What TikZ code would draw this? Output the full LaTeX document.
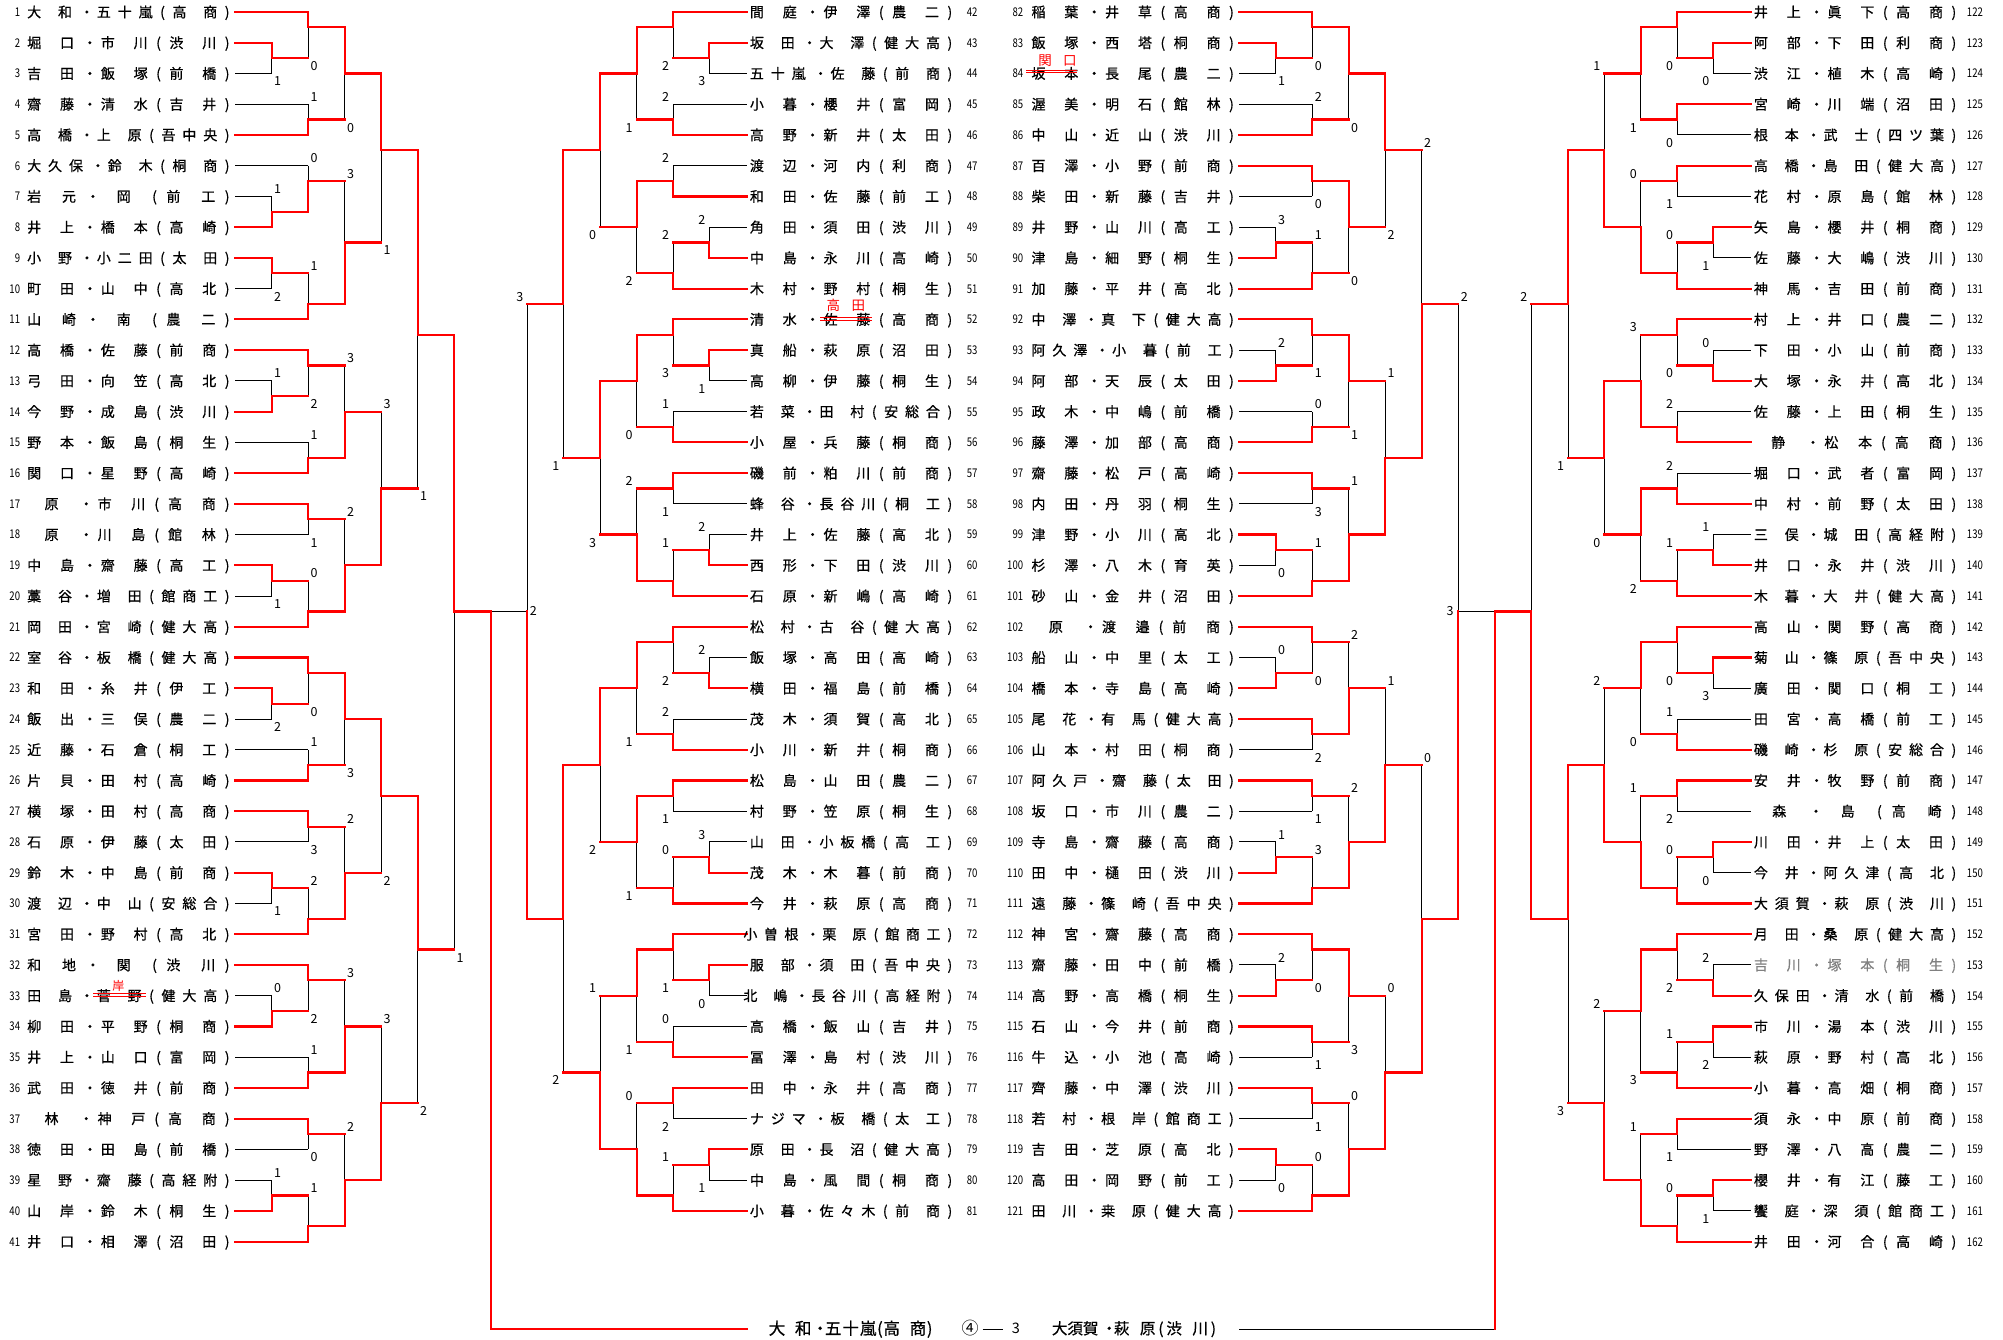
\documentclass[tikz,border=0pt]{standalone}
\usepackage{fontspec}
\setmainfont{Noto Sans CJK JP}
\newfontfamily\jpname{Noto Sans CJK JP}[FakeBold=0.6]
\usepackage{graphicx}
\pgfdeclarelayer{bg}
\pgfsetlayers{bg,main}

\newdimen\dkw \dkw=13pt
\newdimen\ddw \ddw=10pt
\newdimen\dpw \dpw=5pt
\newdimen\dsw \dsw=2pt
\newdimen\dlw \dlw=8pt
\newdimen\dgm \dgm=7.5pt
\newdimen\dds \dds=2.5pt
\def\dcbox#1#2{\hbox to#1{\kern\dimexpr#1/2\relax\hbox to0pt{\hss#2\hss}\hss}}
\def\ddotbox{\hbox to\ddw{\kern\dimexpr\ddw/2+\dds\relax\hbox to0pt{\hss・\hss}\hss}}
\def\distone#1{%
  \ifx#1・\ddotbox
  \else\ifx#1_\hbox to\dsw{}%
  \else\ifx#1=\hbox to\dlw{}%
  \else\ifx#1(\dcbox\dpw{(}%
  \else\ifx#1)\dcbox\dpw{)}%
  \else\dcbox\dkw{#1}%
  \fi\fi\fi\fi\fi}
\def\distsep{\hskip\dgm plus 1fil\relax}
\def\distloop#1{\ifx#1\relax\else\distone{#1}\distsep\expandafter\distloop\fi}
\newcommand\dist[2]{\hbox to#1{\hskip0pt minus 1fil\relax\distloop#2\relax\unskip}}
\newcommand\distN[1]{\hbox{\distloop#1\relax\unskip}}

\def\xLa{271.7}\def\xLb{308}\def\xLc{344.7}\def\xLd{381}\def\xLe{417.7}\def\xLf{454}\def\xLg{490.7}
\def\xRa{709.3}\def\xRb{673}\def\xRc{636.7}\def\xRd{600}\def\xRe{563.3}\def\xRf{527.3}
\def\xSa{1275.7}\def\xSb{1312.3}\def\xSc{1348.7}\def\xSd{1385}\def\xSe{1421.7}\def\xSf{1458.3}
\def\xQa{1713.3}\def\xQb{1677}\def\xQc{1640.7}\def\xQd{1604.3}\def\xQe{1568}\def\xQf{1531.3}

\newcounter{lab}
\newcommand\ML[7]{%
  \stepcounter{lab}%
  \if#6t%
    \begin{pgfonlayer}{bg}\draw[lose] (#1,#4) -- (#1,#5);\end{pgfonlayer}%
    \draw[win] (#1,#3) -- (#1,#4) -- (#2,#4);%
    \node[sc] (lab\arabic{lab}) at (#1+6,#5+0.255) {#7};%
  \else
    \begin{pgfonlayer}{bg}\draw[lose] (#1,#3) -- (#1,#4);\end{pgfonlayer}%
    \draw[win] (#1,#5) -- (#1,#4) -- (#2,#4);%
    \node[sc] (lab\arabic{lab}) at (#1+6,#3-0.245) {#7};%
  \fi}
\newcommand\MR[7]{%
  \stepcounter{lab}%
  \if#6t%
    \begin{pgfonlayer}{bg}\draw[lose] (#1,#4) -- (#1,#5);\end{pgfonlayer}%
    \draw[win] (#1,#3) -- (#1,#4) -- (#2,#4);%
    \node[sc] (lab\arabic{lab}) at (#1-7.5,#5+0.255) {#7};%
  \else
    \begin{pgfonlayer}{bg}\draw[lose] (#1,#3) -- (#1,#4);\end{pgfonlayer}%
    \draw[win] (#1,#5) -- (#1,#4) -- (#2,#4);%
    \node[sc] (lab\arabic{lab}) at (#1-7.5,#3-0.245) {#7};%
  \fi}

\newcommand\entA[3][black]{%
  \node[num,anchor=east] (n#2) at (20.3,#2-1) {\scalebox{0.8}[1]{#2}};
  \node[nm,text=#1] (e#2) at (27.5,#2-1) {\dist{202pt}{#3}};}
\newcommand\entB[3][black]{%
  \node[num,anchor=west] (n#2) at (966.7,#2-42) {\scalebox{0.8}[1]{#2}};
  \node[nm,text=#1] (e#2) at (750.2,#2-42) {\dist{202pt}{#3}};}
\newcommand\entC[3][black]{%
  \node[num,anchor=east] (n#2) at (1023.4,#2-82) {\scalebox{0.8}[1]{#2}};
  \node[nm,text=#1] (e#2) at (1031.8,#2-82) {\dist{202pt}{#3}};}
\newcommand\entD[3][black]{%
  \node[num,anchor=west] (n#2) at (1966.7,#2-122) {\scalebox{0.8}[1]{#2}};
  \node[nm,text=#1] (e#2) at (1754.2,#2-122) {\dist{202pt}{#3}};}

\begin{document}
\begin{tikzpicture}[x=1pt,y=-30.74pt,
  win/.style={draw=red,line width=2.2pt,line cap=rect},
  lose/.style={draw=black,line width=1pt},
  sc/.style={inner sep=0pt,font=\fontsize{12.5pt}{12.5pt}\selectfont,text height=9.2pt,text depth=0pt},
  num/.style={inner sep=0pt,font=\fontsize{12pt}{12pt}\selectfont,text height=8.8pt,text depth=0pt},
  nm/.style={inner sep=0pt,anchor=west,font=\jpname\fontsize{14pt}{14pt}\selectfont,text height=12.3pt,text depth=1.7pt},
  fix/.style={inner sep=0pt,text=red,font=\fontsize{13.5pt}{13.5pt}\selectfont,text height=11.9pt,text depth=1.6pt},
]
\useasboundingbox (0,-0.39037) rectangle (2003,43.20107);
\begin{pgfonlayer}{bg}
\fill[white] (0,-0.39037) rectangle (2003,43.20107);
\end{pgfonlayer}

% ---------- entry lines ----------
\foreach \r in {0,4,10,11,15,16,20,21,25,26,30,31,35,36,40} \draw[win] (235,\r) -- (\xLb,\r);
\foreach \r in {1,7,8,13,18,22,28,33,39} \draw[win] (235,\r) -- (\xLa,\r);
\foreach \r in {0,4,6,9,10,14,15,19,20,24,25,29,30,34,35,39} \draw[win] (746.7,\r) -- (\xRb,\r);
\foreach \r in {1,8,11,18,22,28,31,37} \draw[win] (746.7,\r) -- (\xRa,\r);
\foreach \r in {0,4,5,9,10,14,15,19,20,23,25,29,30,33,35,39} \draw[win] (1239,\r) -- (\xSb,\r);
\foreach \r in {1,8,12,17,22,28,32,37} \draw[win] (1239,\r) -- (\xSa,\r);
\foreach \r in {0,3,5,9,10,14,16,19,20,24,25,29,30,35,36,40} \draw[win] (1750.7,\r) -- (\xQb,\r);
\foreach \r in {1,7,12,18,21,27,32,33,38} \draw[win] (1750.7,\r) -- (\xQa,\r);
\begin{pgfonlayer}{bg}
\foreach \r in {2,6,9,12,19,23,29,32,38} \draw[lose] (235,\r) -- (\xLa,\r);
\foreach \r in {3,5,14,17,24,27,34,37} \draw[lose] (235,\r) -- (\xLb,\r);
\foreach \r in {2,7,12,17,21,27,32,38} \draw[lose] (746.7,\r) -- (\xRa,\r);
\foreach \r in {3,5,13,16,23,26,33,36} \draw[lose] (746.7,\r) -- (\xRb,\r);
\foreach \r in {2,7,11,18,21,27,31,38} \draw[lose] (1239,\r) -- (\xSa,\r);
\foreach \r in {3,6,13,16,24,26,34,36} \draw[lose] (1239,\r) -- (\xSb,\r);
\foreach \r in {2,8,11,17,22,28,31,34,39} \draw[lose] (1750.7,\r) -- (\xQa,\r);
\foreach \r in {4,6,13,15,23,26,37} \draw[lose] (1750.7,\r) -- (\xQb,\r);
\end{pgfonlayer}

% ---------- left column matches ----------
\ML{\xLa}{\xLb}{1}{1.5}{2}{t}{1}
\ML{\xLb}{\xLc}{0}{0.5}{1.5}{t}{0}
\ML{\xLb}{\xLc}{3}{3.5}{4}{b}{1}
\ML{\xLc}{\xLd}{0.5}{2}{3.5}{t}{0}
\ML{\xLa}{\xLb}{6}{6.5}{7}{b}{1}
\ML{\xLb}{\xLc}{5}{5.5}{6.5}{b}{0}
\ML{\xLa}{\xLb}{8}{8.5}{9}{t}{2}
\ML{\xLb}{\xLc}{8.5}{9.5}{10}{b}{1}
\ML{\xLc}{\xLd}{5.5}{7.5}{9.5}{b}{3}
\ML{\xLd}{\xLe}{2}{4.5}{7.5}{t}{1}
\ML{\xLb}{\xLc}{11}{11.5}{12.5}{t}{2}
\ML{\xLa}{\xLb}{12}{12.5}{13}{b}{1}
\ML{\xLb}{\xLc}{14}{14.5}{15}{b}{1}
\ML{\xLc}{\xLd}{11.5}{13}{14.5}{b}{3}
\ML{\xLb}{\xLc}{16}{16.5}{17}{t}{1}
\ML{\xLa}{\xLb}{18}{18.5}{19}{t}{1}
\ML{\xLb}{\xLc}{18.5}{19.5}{20}{b}{0}
\ML{\xLc}{\xLd}{16.5}{18}{19.5}{b}{2}
\ML{\xLd}{\xLe}{13}{15.5}{18}{b}{3}
\ML{\xLe}{\xLf}{4.5}{10.5}{15.5}{t}{1}
\ML{\xLa}{\xLb}{22}{22.5}{23}{t}{2}
\ML{\xLb}{\xLc}{21}{21.5}{22.5}{t}{0}
\ML{\xLb}{\xLc}{24}{24.5}{25}{b}{1}
\ML{\xLc}{\xLd}{21.5}{23}{24.5}{t}{3}
\ML{\xLb}{\xLc}{26}{26.5}{27}{t}{3}
\ML{\xLa}{\xLb}{28}{28.5}{29}{t}{1}
\ML{\xLb}{\xLc}{28.5}{29.5}{30}{b}{2}
\ML{\xLc}{\xLd}{26.5}{28}{29.5}{b}{2}
\ML{\xLd}{\xLe}{23}{25.5}{28}{t}{2}
\ML{\xLa}{\xLb}{32}{32.5}{33}{b}{0}
\ML{\xLb}{\xLc}{31}{31.5}{32.5}{t}{2}
\ML{\xLb}{\xLc}{34}{34.5}{35}{b}{1}
\ML{\xLc}{\xLd}{31.5}{33}{34.5}{b}{3}
\ML{\xLb}{\xLc}{36}{36.5}{37}{t}{0}
\ML{\xLa}{\xLb}{38}{38.5}{39}{b}{1}
\ML{\xLb}{\xLc}{38.5}{39.5}{40}{b}{1}
\ML{\xLc}{\xLd}{36.5}{38}{39.5}{b}{2}
\ML{\xLd}{\xLe}{33}{35.5}{38}{b}{3}
\ML{\xLe}{\xLf}{25.5}{30.5}{35.5}{t}{2}
\ML{\xLf}{\xLg}{10.5}{19.5}{30.5}{t}{1}

% ---------- centre-left matches ----------
\MR{\xRb}{\xRc}{0}{0.5}{1.5}{t}{2}
\MR{\xRa}{\xRb}{1}{1.5}{2}{t}{3}
\MR{\xRb}{\xRc}{3}{3.5}{4}{b}{2}
\MR{\xRc}{\xRd}{0.5}{2}{3.5}{t}{1}
\MR{\xRb}{\xRc}{5}{5.5}{6}{b}{2}
\MR{\xRa}{\xRb}{7}{7.5}{8}{b}{2}
\MR{\xRb}{\xRc}{7.5}{8.5}{9}{b}{2}
\MR{\xRc}{\xRd}{5.5}{7}{8.5}{t}{2}
\MR{\xRd}{\xRe}{2}{4.5}{7}{t}{0}
\MR{\xRa}{\xRb}{11}{11.5}{12}{t}{1}
\MR{\xRb}{\xRc}{10}{10.5}{11.5}{t}{3}
\MR{\xRb}{\xRc}{13}{13.5}{14}{b}{1}
\MR{\xRc}{\xRd}{10.5}{12}{13.5}{t}{0}
\MR{\xRa}{\xRb}{17}{17.5}{18}{b}{2}
\MR{\xRb}{\xRc}{15}{15.5}{16}{t}{1}
\MR{\xRb}{\xRc}{17.5}{18.5}{19}{b}{1}
\MR{\xRc}{\xRd}{15.5}{17}{18.5}{b}{2}
\MR{\xRd}{\xRe}{12}{14.5}{17}{t}{3}
\MR{\xRe}{\xRf}{4.5}{9.5}{14.5}{t}{1}
\MR{\xRa}{\xRb}{21}{21.5}{22}{b}{2}
\MR{\xRb}{\xRc}{20}{20.5}{21.5}{t}{2}
\MR{\xRb}{\xRc}{23}{23.5}{24}{b}{2}
\MR{\xRc}{\xRd}{20.5}{22}{23.5}{t}{1}
\MR{\xRb}{\xRc}{25}{25.5}{26}{t}{1}
\MR{\xRa}{\xRb}{27}{27.5}{28}{b}{3}
\MR{\xRb}{\xRc}{27.5}{28.5}{29}{b}{0}
\MR{\xRc}{\xRd}{25.5}{27}{28.5}{t}{1}
\MR{\xRd}{\xRe}{22}{24.5}{27}{t}{2}
\MR{\xRa}{\xRb}{31}{31.5}{32}{t}{0}
\MR{\xRb}{\xRc}{30}{30.5}{31.5}{t}{1}
\MR{\xRb}{\xRc}{33}{33.5}{34}{b}{0}
\MR{\xRc}{\xRd}{30.5}{32}{33.5}{t}{1}
\MR{\xRb}{\xRc}{35}{35.5}{36}{t}{2}
\MR{\xRa}{\xRb}{37}{37.5}{38}{t}{1}
\MR{\xRb}{\xRc}{37.5}{38.5}{39}{b}{1}
\MR{\xRc}{\xRd}{35.5}{37}{38.5}{b}{0}
\MR{\xRd}{\xRe}{32}{34.5}{37}{b}{1}
\MR{\xRe}{\xRf}{24.5}{29.5}{34.5}{t}{2}
\MR{\xRf}{\xRf}{9.5}{19.5}{29.5}{b}{3}

% ---------- centre-right matches ----------
\ML{\xSa}{\xSb}{1}{1.5}{2}{t}{1}
\ML{\xSb}{\xSc}{0}{0.5}{1.5}{t}{0}
\ML{\xSb}{\xSc}{3}{3.5}{4}{b}{2}
\ML{\xSc}{\xSd}{0.5}{2}{3.5}{t}{0}
\ML{\xSb}{\xSc}{5}{5.5}{6}{t}{0}
\ML{\xSa}{\xSb}{7}{7.5}{8}{b}{3}
\ML{\xSb}{\xSc}{7.5}{8.5}{9}{b}{1}
\ML{\xSc}{\xSd}{5.5}{7}{8.5}{t}{0}
\ML{\xSd}{\xSe}{2}{4.5}{7}{t}{2}
\ML{\xSa}{\xSb}{11}{11.5}{12}{b}{2}
\ML{\xSb}{\xSc}{10}{10.5}{11.5}{t}{1}
\ML{\xSb}{\xSc}{13}{13.5}{14}{b}{0}
\ML{\xSc}{\xSd}{10.5}{12}{13.5}{t}{1}
\ML{\xSb}{\xSc}{15}{15.5}{16}{t}{3}
\ML{\xSa}{\xSb}{17}{17.5}{18}{t}{0}
\ML{\xSb}{\xSc}{17.5}{18.5}{19}{b}{1}
\ML{\xSc}{\xSd}{15.5}{17}{18.5}{b}{1}
\ML{\xSd}{\xSe}{12}{14.5}{17}{b}{1}
\ML{\xSe}{\xSf}{4.5}{9.5}{14.5}{b}{2}
\ML{\xSa}{\xSb}{21}{21.5}{22}{b}{0}
\ML{\xSb}{\xSc}{20}{20.5}{21.5}{t}{0}
\ML{\xSb}{\xSc}{23}{23.5}{24}{t}{2}
\ML{\xSc}{\xSd}{20.5}{22}{23.5}{b}{2}
\ML{\xSb}{\xSc}{25}{25.5}{26}{t}{1}
\ML{\xSa}{\xSb}{27}{27.5}{28}{b}{1}
\ML{\xSb}{\xSc}{27.5}{28.5}{29}{b}{3}
\ML{\xSc}{\xSd}{25.5}{27}{28.5}{b}{2}
\ML{\xSd}{\xSe}{22}{24.5}{27}{b}{1}
\ML{\xSa}{\xSb}{31}{31.5}{32}{b}{2}
\ML{\xSb}{\xSc}{30}{30.5}{31.5}{t}{0}
\ML{\xSb}{\xSc}{33}{33.5}{34}{t}{1}
\ML{\xSc}{\xSd}{30.5}{32}{33.5}{t}{3}
\ML{\xSb}{\xSc}{35}{35.5}{36}{t}{1}
\ML{\xSa}{\xSb}{37}{37.5}{38}{t}{0}
\ML{\xSb}{\xSc}{37.5}{38.5}{39}{b}{0}
\ML{\xSc}{\xSd}{35.5}{37}{38.5}{b}{0}
\ML{\xSd}{\xSe}{32}{34.5}{37}{b}{0}
\ML{\xSe}{\xSf}{24.5}{29.5}{34.5}{b}{0}
\ML{\xSf}{\xSf}{9.5}{19.5}{29.5}{b}{2}

% ---------- right column matches ----------
\MR{\xQa}{\xQb}{1}{1.5}{2}{t}{0}
\MR{\xQb}{\xQc}{0}{0.5}{1.5}{t}{0}
\MR{\xQb}{\xQc}{3}{3.5}{4}{t}{0}
\MR{\xQc}{\xQd}{0.5}{2}{3.5}{t}{1}
\MR{\xQb}{\xQc}{5}{5.5}{6}{t}{1}
\MR{\xQa}{\xQb}{7}{7.5}{8}{t}{1}
\MR{\xQb}{\xQc}{7.5}{8.5}{9}{b}{0}
\MR{\xQc}{\xQd}{5.5}{7}{8.5}{b}{0}
\MR{\xQd}{\xQe}{2}{4.5}{7}{b}{1}
\MR{\xQa}{\xQb}{11}{11.5}{12}{b}{0}
\MR{\xQb}{\xQc}{10}{10.5}{11.5}{t}{0}
\MR{\xQb}{\xQc}{13}{13.5}{14}{b}{2}
\MR{\xQc}{\xQd}{10.5}{12}{13.5}{b}{3}
\MR{\xQb}{\xQc}{15}{15.5}{16}{b}{2}
\MR{\xQa}{\xQb}{17}{17.5}{18}{b}{1}
\MR{\xQb}{\xQc}{17.5}{18.5}{19}{b}{1}
\MR{\xQc}{\xQd}{15.5}{17}{18.5}{t}{2}
\MR{\xQd}{\xQe}{12}{14.5}{17}{t}{0}
\MR{\xQe}{\xQf}{4.5}{9.5}{14.5}{t}{1}
\MR{\xQa}{\xQb}{21}{21.5}{22}{t}{3}
\MR{\xQb}{\xQc}{20}{20.5}{21.5}{t}{0}
\MR{\xQb}{\xQc}{23}{23.5}{24}{b}{1}
\MR{\xQc}{\xQd}{20.5}{22}{23.5}{t}{0}
\MR{\xQb}{\xQc}{25}{25.5}{26}{t}{2}
\MR{\xQa}{\xQb}{27}{27.5}{28}{t}{0}
\MR{\xQb}{\xQc}{27.5}{28.5}{29}{b}{0}
\MR{\xQc}{\xQd}{25.5}{27}{28.5}{b}{1}
\MR{\xQd}{\xQe}{22}{24.5}{27}{b}{2}
\MR{\xQa}{\xQb}{31}{31.5}{32}{b}{2}
\MR{\xQb}{\xQc}{30}{30.5}{31.5}{t}{2}
\MR{\xQa}{\xQb}{33}{33.5}{34}{t}{2}
\MR{\xQb}{\xQc}{33.5}{34.5}{35}{b}{1}
\MR{\xQc}{\xQd}{30.5}{32.5}{34.5}{t}{3}
\MR{\xQb}{\xQc}{36}{36.5}{37}{t}{1}
\MR{\xQa}{\xQb}{38}{38.5}{39}{t}{1}
\MR{\xQb}{\xQc}{38.5}{39.5}{40}{b}{0}
\MR{\xQc}{\xQd}{36.5}{38}{39.5}{b}{1}
\MR{\xQd}{\xQe}{32.5}{35.5}{38}{b}{2}
\MR{\xQe}{\xQf}{24.5}{29.5}{35.5}{t}{3}
\MR{\xQf}{1495}{9.5}{19.5}{29.5}{b}{2}

% ---------- semifinals and final ----------
\begin{pgfonlayer}{bg}
\draw[lose] (\xRf,19.5) -- (\xLg,19.5);
\draw[lose] (\xSf,19.5) -- (1495,19.5);
\draw[lose] (1495,42.853) -- (1239,42.853);
\draw[lose] (982.7,42.853) -- (1003.3,42.853);
\end{pgfonlayer}
\draw[win] (\xLg,19.5) -- (\xLg,42.853) -- (746.7,42.853);
\draw[win] (1495,19.5) -- (1495,42.853);
\node[sc] (semiL) at (533.3,19.47) {2};
\node[sc] (semiR) at (1450,19.47) {3};

\node[inner sep=0pt,anchor=west,font=\jpname\fontsize{16.5pt}{16.5pt}\selectfont,text height=14.5pt,text depth=2pt] (finL) at (768,42.82)
  {\dkw=17.5pt\dsw=8.75pt\ddw=12.5pt\dds=2pt\dpw=6pt\dgm=0pt\distN{大_和・五十嵐(高_商)}};
\node[inner sep=0pt,font=\fontsize{17pt}{17pt}\selectfont,text height=14.96pt,text depth=2.04pt] (finScore) at (970,42.82) {④};
\node[inner sep=0pt,font=\fontsize{14.5pt}{14.5pt}\selectfont,text height=10.6pt,text depth=0pt] (finThree) at (1016,42.82) {3};
\node[inner sep=0pt,anchor=west,font=\jpname\fontsize{15.5pt}{15.5pt}\selectfont,text height=13.64pt,text depth=1.86pt] (finR) at (1051.75,42.82)
  {\dkw=15.5pt\dsw=10.5pt\ddw=15.5pt\dds=3pt\dpw=11pt\dgm=0pt\distN{大須賀・萩_原(渋_川)}};

% ---------- entries ----------
\entA{1}{大_和・五十嵐(高_商)}
\entA{2}{堀_口・市_川(渋_川)}
\entA{3}{吉_田・飯_塚(前_橋)}
\entA{4}{齋_藤・清_水(吉_井)}
\entA{5}{高_橋・上_原(吾中央)}
\entA{6}{大久保・鈴_木(桐_商)}
\entA{7}{岩_元・_岡_(前_工)}
\entA{8}{井_上・橋_本(高_崎)}
\entA{9}{小_野・小二田(太_田)}
\entA{10}{町_田・山_中(高_北)}
\entA{11}{山_崎・_南_(農_二)}
\entA{12}{高_橋・佐_藤(前_商)}
\entA{13}{弓_田・向_笠(高_北)}
\entA{14}{今_野・成_島(渋_川)}
\entA{15}{野_本・飯_島(桐_生)}
\entA{16}{関_口・星_野(高_崎)}
\entA{17}{=原_・市_川(高_商)}
\entA{18}{=原_・川_島(館_林)}
\entA{19}{中_島・齋_藤(高_工)}
\entA{20}{藁_谷・増_田(館商工)}
\entA{21}{岡_田・宮_崎(健大高)}
\entA{22}{室_谷・板_橋(健大高)}
\entA{23}{和_田・糸_井(伊_工)}
\entA{24}{飯_出・三_俣(農_二)}
\entA{25}{近_藤・石_倉(桐_工)}
\entA{26}{片_貝・田_村(高_崎)}
\entA{27}{横_塚・田_村(高_商)}
\entA{28}{石_原・伊_藤(太_田)}
\entA{29}{鈴_木・中_島(前_商)}
\entA{30}{渡_辺・中_山(安総合)}
\entA{31}{宮_田・野_村(高_北)}
\entA{32}{和_地・_関_(渋_川)}
\entA{33}{田_島・菅_野(健大高)}
\entA{34}{柳_田・平_野(桐_商)}
\entA{35}{井_上・山_口(富_岡)}
\entA{36}{武_田・徳_井(前_商)}
\entA{37}{=林_・神_戸(高_商)}
\entA{38}{徳_田・田_島(前_橋)}
\entA{39}{星_野・齋_藤(高経附)}
\entA{40}{山_岸・鈴_木(桐_生)}
\entA{41}{井_口・相_澤(沼_田)}

\entB{42}{間_庭・伊_澤(農_二)}
\entB{43}{坂_田・大_澤(健大高)}
\entB{44}{五十嵐・佐_藤(前_商)}
\entB{45}{小_暮・櫻_井(富_岡)}
\entB{46}{高_野・新_井(太_田)}
\entB{47}{渡_辺・河_内(利_商)}
\entB{48}{和_田・佐_藤(前_工)}
\entB{49}{角_田・須_田(渋_川)}
\entB{50}{中_島・永_川(高_崎)}
\entB{51}{木_村・野_村(桐_生)}
\entB{52}{清_水・佐_藤(高_商)}
\entB{53}{真_船・萩_原(沼_田)}
\entB{54}{高_柳・伊_藤(桐_生)}
\entB{55}{若_菜・田_村(安総合)}
\entB{56}{小_屋・兵_藤(桐_商)}
\entB{57}{磯_前・粕_川(前_商)}
\entB{58}{蜂_谷・長谷川(桐_工)}
\entB{59}{井_上・佐_藤(高_北)}
\entB{60}{西_形・下_田(渋_川)}
\entB{61}{石_原・新_嶋(高_崎)}
\entB{62}{松_村・古_谷(健大高)}
\entB{63}{飯_塚・高_田(高_崎)}
\entB{64}{横_田・福_島(前_橋)}
\entB{65}{茂_木・須_賀(高_北)}
\entB{66}{小_川・新_井(桐_商)}
\entB{67}{松_島・山_田(農_二)}
\entB{68}{村_野・笠_原(桐_生)}
\entB{69}{山_田・小板橋(高_工)}
\entB{70}{茂_木・木_暮(前_商)}
\entB{71}{今_井・萩_原(高_商)}
\entB{72}{小曽根・栗_原(館商工)}
\entB{73}{服_部・須_田(吾中央)}
\entB{74}{北_嶋・長谷川(高経附)}
\entB{75}{高_橋・飯_山(吉_井)}
\entB{76}{冨_澤・島_村(渋_川)}
\entB{77}{田_中・永_井(高_商)}
\entB{78}{ナジマ・板_橋(太_工)}
\entB{79}{原_田・長_沼(健大高)}
\entB{80}{中_島・風_間(桐_商)}
\entB{81}{小_暮・佐々木(前_商)}

\entC{82}{稲_葉・井_草(高_商)}
\entC{83}{飯_塚・西_塔(桐_商)}
\entC{84}{坂_本・長_尾(農_二)}
\entC{85}{渥_美・明_石(館_林)}
\entC{86}{中_山・近_山(渋_川)}
\entC{87}{百_澤・小_野(前_商)}
\entC{88}{柴_田・新_藤(吉_井)}
\entC{89}{井_野・山_川(高_工)}
\entC{90}{津_島・細_野(桐_生)}
\entC{91}{加_藤・平_井(高_北)}
\entC{92}{中_澤・真_下(健大高)}
\entC{93}{阿久澤・小_暮(前_工)}
\entC{94}{阿_部・天_辰(太_田)}
\entC{95}{政_木・中_嶋(前_橋)}
\entC{96}{藤_澤・加_部(高_商)}
\entC{97}{齋_藤・松_戸(高_崎)}
\entC{98}{内_田・丹_羽(桐_生)}
\entC{99}{津_野・小_川(高_北)}
\entC{100}{杉_澤・八_木(育_英)}
\entC{101}{砂_山・金_井(沼_田)}
\entC{102}{=原_・渡_邉(前_商)}
\entC{103}{船_山・中_里(太_工)}
\entC{104}{橋_本・寺_島(高_崎)}
\entC{105}{尾_花・有_馬(健大高)}
\entC{106}{山_本・村_田(桐_商)}
\entC{107}{阿久戸・齋_藤(太_田)}
\entC{108}{坂_口・市_川(農_二)}
\entC{109}{寺_島・齋_藤(高_商)}
\entC{110}{田_中・樋_田(渋_川)}
\entC{111}{遠_藤・篠_崎(吾中央)}
\entC{112}{神_宮・齋_藤(高_商)}
\entC{113}{齋_藤・田_中(前_橋)}
\entC{114}{高_野・高_橋(桐_生)}
\entC{115}{石_山・今_井(前_商)}
\entC{116}{牛_込・小_池(高_崎)}
\entC{117}{齊_藤・中_澤(渋_川)}
\entC{118}{若_村・根_岸(館商工)}
\entC{119}{吉_田・芝_原(高_北)}
\entC{120}{高_田・岡_野(前_工)}
\entC{121}{田_川・桒_原(健大高)}

\entD{122}{井_上・眞_下(高_商)}
\entD{123}{阿_部・下_田(利_商)}
\entD{124}{渋_江・植_木(高_崎)}
\entD{125}{宮_崎・川_端(沼_田)}
\entD{126}{根_本・武_士(四ツ葉)}
\entD{127}{高_橋・島_田(健大高)}
\entD{128}{花_村・原_島(館_林)}
\entD{129}{矢_島・櫻_井(桐_商)}
\entD{130}{佐_藤・大_嶋(渋_川)}
\entD{131}{神_馬・吉_田(前_商)}
\entD{132}{村_上・井_口(農_二)}
\entD{133}{下_田・小_山(前_商)}
\entD{134}{大_塚・永_井(高_北)}
\entD{135}{佐_藤・上_田(桐_生)}
\entD{136}{=静_・松_本(高_商)}
\entD{137}{堀_口・武_者(富_岡)}
\entD{138}{中_村・前_野(太_田)}
\entD{139}{三_俣・城_田(高経附)}
\entD{140}{井_口・永_井(渋_川)}
\entD{141}{木_暮・大_井(健大高)}
\entD{142}{高_山・関_野(高_商)}
\entD{143}{菊_山・篠_原(吾中央)}
\entD{144}{廣_田・関_口(桐_工)}
\entD{145}{田_宮・高_橋(前_工)}
\entD{146}{磯_崎・杉_原(安総合)}
\entD{147}{安_井・牧_野(前_商)}
\entD{148}{=森_・_島_(高_崎)}
\entD{149}{川_田・井_上(太_田)}
\entD{150}{今_井・阿久津(高_北)}
\entD{151}{大須賀・萩_原(渋_川)}
\entD{152}{月_田・桑_原(健大高)}
\entD[gray]{153}{吉_川・塚_本(桐_生)}
\entD{154}{久保田・清_水(前_橋)}
\entD{155}{市_川・湯_本(渋_川)}
\entD{156}{萩_原・野_村(高_北)}
\entD{157}{小_暮・高_畑(桐_商)}
\entD{158}{須_永・中_原(前_商)}
\entD{159}{野_澤・八_高(農_二)}
\entD{160}{櫻_井・有_江(藤_工)}
\entD{161}{饗_庭・深_須(館商工)}
\entD{162}{井_田・河_合(高_崎)}

% ---------- red corrections ----------
\draw[red,line width=0.8pt] (93.3,31.922) -- (145.7,31.922);
\draw[red,line width=0.8pt] (93.3,32.010) -- (145.7,32.010);
\node[fix,font=\fontsize{12pt}{12pt}\selectfont,text height=10.6pt,text depth=1.4pt] (fix33) at (118.3,31.685) {岸};
\draw[red,line width=0.8pt] (820,9.932) -- (871.7,9.932);
\draw[red,line width=0.8pt] (820,10.042) -- (871.7,10.042);
\node[fix] (fix52) at (845.8,9.531) {高\hspace{11.5pt}田};
\draw[red,line width=0.8pt] (1026,1.887) -- (1077.3,1.887);
\draw[red,line width=0.8pt] (1026,1.975) -- (1077.3,1.975);
\node[fix] (fix84) at (1057.5,1.5615) {関\hspace{11.5pt}口};
\end{tikzpicture}
\end{document}
